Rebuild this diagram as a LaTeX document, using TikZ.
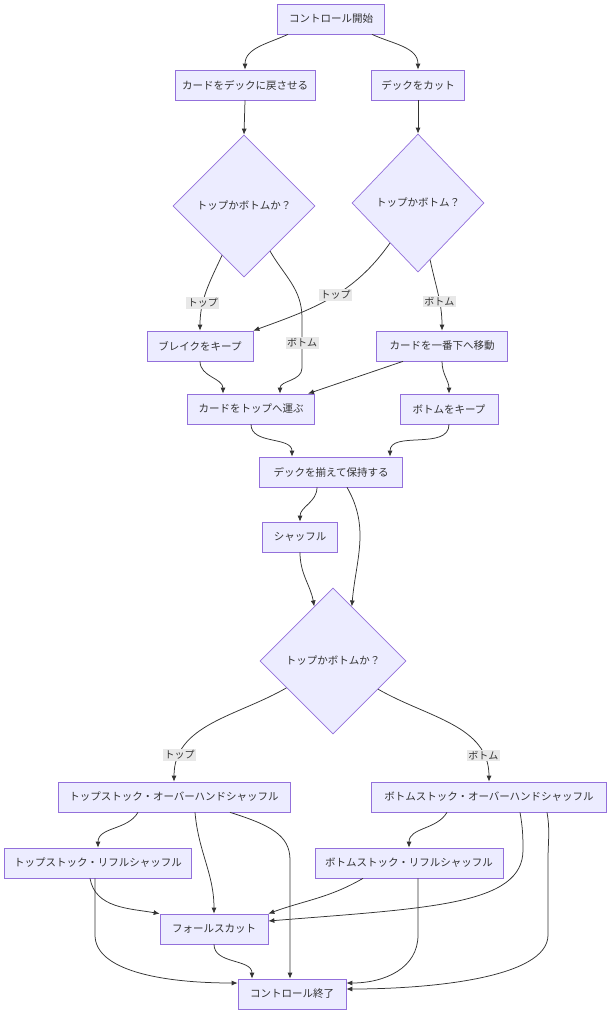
\documentclass[tikz,border=0pt]{standalone}
\usepackage{fontspec}
\newfontfamily\jpfont{Noto Sans CJK JP}
\usetikzlibrary{shapes.geometric,arrows.meta}
\definecolor{boxfill}{HTML}{ECECFF}
\definecolor{boxline}{HTML}{9370DB}
\definecolor{linec}{HTML}{333333}
\definecolor{tagfill}{HTML}{E8E8E8}
\tikzset{
  box/.style={rectangle, draw=boxline, fill=boxfill, line width=0.7pt, minimum height=30pt,
    inner xsep=3pt, text=linec, font=\jpfont\fontsize{10.5}{12}\selectfont},
  choice/.style={diamond, aspect=1, draw=boxline, fill=boxfill, line width=0.7pt, inner sep=0pt,
    text=linec, font=\jpfont\fontsize{10.5}{12}\selectfont},
  tag/.style={fill=tagfill, inner sep=1.5pt, text=linec, font=\jpfont\fontsize{10}{12}\selectfont},
  arrow/.style={draw=linec, line width=0.75pt, -{Latex[length=6pt,width=5pt]}}
}
\begin{document}
\begin{tikzpicture}[x=1pt,y=1pt]
\useasboundingbox (0,0) rectangle (615,-1024);
%% top half: where the card goes
\node[box, minimum width=107pt] (start) at (331,-19) {コントロール開始};
\node[box, minimum width=140pt] (pick) at (245,-85) {カードをデックに戻させる};
\node[box, minimum width=93pt] (cut) at (418,-85) {デックをカット};
\node[choice, minimum width=142pt, minimum height=142pt] (askA) at (244,-206) {トップかボトムか？};
\node[choice, minimum width=132pt, minimum height=138pt] (askB) at (418,-203) {トップかボトム？};
\node[box, minimum width=106pt] (brk) at (200,-346) {ブレイクをキープ};
\node[box, minimum width=131pt] (tobot) at (442,-346) {カードを一番下へ移動};
\node[box, minimum width=127pt] (totop) at (251,-409) {カードをトップへ運ぶ};
\node[box, minimum width=98pt] (keepb) at (449,-409) {ボトムをキープ};
\node[box, minimum width=143pt] (square) at (331,-472) {デックを揃えて保持する};
\node[box, minimum width=75pt] (shuf) at (300,-537) {シャッフル};
\node[choice, minimum width=146pt, minimum height=146pt] (askC) at (333,-661) {トップかボトムか？};
%% bottom half: the shuffles
\node[box, minimum width=232pt] (tophs) at (174,-797) {トップストック・オーバーハンドシャッフル};
\node[box, minimum width=235pt] (both) at (489,-797) {ボトムストック・オーバーハンドシャッフル};
\node[box, minimum width=187pt] (toprf) at (98,-863) {トップストック・リフルシャッフル};
\node[box, minimum width=188pt] (botrf) at (409,-863) {ボトムストック・リフルシャッフル};
\node[box, minimum width=108pt] (fcut) at (214,-929) {フォールスカット};
\node[box, minimum width=108pt] (finish) at (292,-994) {コントロール終了};

%% connectors, top to bottom
\draw[arrow] ([xshift=-43pt]start.south) to[out=-155,in=90] (pick.north);
\draw[arrow] ([xshift=41pt]start.south) to[out=-25,in=90] (cut.north);
\draw[arrow] (pick.south) -- (askA.north);
\draw[arrow] (cut.south) -- (askB.north);
\draw[arrow] (askA.-114) to[out=-115,in=90] node[tag,pos=0.66] {トップ} (brk.north);
\draw[arrow] (askA.-60) to[out=-60,in=90] (302,-318) -- node[tag] {ボトム} (302,-368)
  to[out=-90,in=90] ([xshift=29pt]totop.north);
\draw[arrow] (askB.-125) to[out=-125,in=20] node[tag,pos=0.46] {トップ} (brk.north east);
\draw[arrow] (askB.-78) to[out=-78,in=90] node[tag,pos=0.6] {ボトム} (tobot.north);
\draw[arrow] (brk.south) to[out=-90,in=90] ([xshift=-28pt]totop.north);
\draw[arrow] ([xshift=-39pt]tobot.south) -- ([xshift=57pt]totop.north);
\draw[arrow] (tobot.south) to[out=-90,in=90] (keepb.north);
\draw[arrow] (totop.south) to[out=-90,in=90] ([xshift=-39pt]square.north);
\draw[arrow] (keepb.south) to[out=-90,in=90] ([xshift=59pt]square.north);
\draw[arrow] ([xshift=-14pt]square.south) to[out=-90,in=90] (shuf.north);
\draw[arrow] ([xshift=16pt]square.south) to[out=-60,in=85] (askC.71);
\draw[arrow] (shuf.south) to[out=-90,in=100] (askC.109);
\draw[arrow] (askC.-150) to[out=-150,in=90] node[tag,pos=0.82] {トップ} (tophs.north);
\draw[arrow] (askC.-32) to[out=-30,in=90] node[tag,pos=0.82] {ボトム} (both.north);

\draw[arrow] ([xshift=-36pt]tophs.south) to[out=-120,in=90] (toprf.north);
\draw[arrow] ([xshift=21pt]tophs.south) to[out=-85,in=90] (fcut.north);
\draw[arrow] ([xshift=56pt]tophs.south) .. controls (270,-825) and (290,-835) .. (290,-860)
  -- ([xshift=-2pt]finish.north);
\draw[arrow] ([xshift=-8pt]toprf.south) to[out=-80,in=170] (fcut.north west);
\draw[arrow] ([xshift=-3pt]toprf.south) -- (95,-935) .. controls (95,-970) and (160,-983) .. ([yshift=11pt]finish.west);
\draw[arrow] (fcut.south) to[out=-90,in=90] ([xshift=-40pt]finish.north);
\draw[arrow] ([xshift=-46pt]botrf.south) to[out=-150,in=20] (fcut.north east);
\draw[arrow] ([xshift=9pt]botrf.south) -- (418,-935) .. controls (418,-968) and (385,-983) .. ([yshift=11pt]finish.east);
\draw[arrow] ([xshift=-42pt]both.south) to[out=-120,in=90] (botrf.north);
\draw[arrow] ([xshift=31pt]both.south) to[out=-80,in=90] (523,-850)
  .. controls (523,-905) and (430,-908) .. ([yshift=8pt]fcut.east);
\draw[arrow] ([xshift=58pt]both.south) to[out=-80,in=90] (548,-860) -- (548,-935)
  .. controls (548,-978) and (430,-989) .. ([yshift=5pt]finish.east);
\end{tikzpicture}
\end{document}
